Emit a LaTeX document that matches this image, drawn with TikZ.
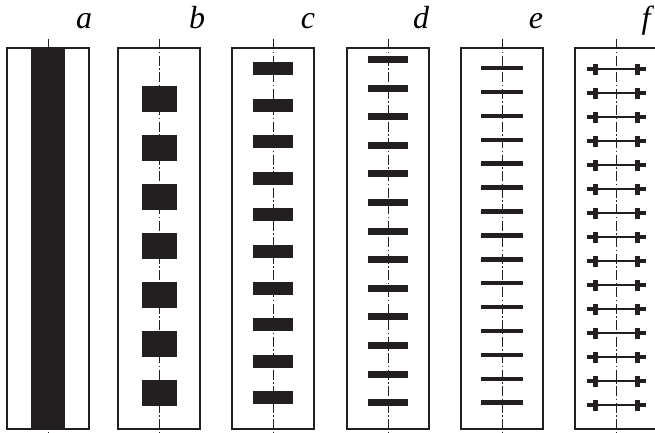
\documentclass[tikz,border=0pt]{standalone}
\usepackage{fontspec}
\setmainfont{Liberation Serif}
\definecolor{ink}{RGB}{35,31,32}
\begin{document}
\begin{tikzpicture}[x=0.75pt,y=-0.75pt,
  frame/.style={draw=ink,line width=1.3pt},
  axisline/.style={draw=ink,line width=0.7pt,dash pattern=on 7.5pt off 1.9pt on 1.1pt off 1.9pt},
  block/.style={fill=ink},
  rod/.style={draw=ink,line width=0.8pt},
  tag/.style={font=\fontsize{24}{26}\selectfont\itshape,anchor=base,inner sep=0pt}]
\useasboundingbox (0,0) rectangle (655,432);

% symmetry axes (dash-dot), one per strip
\foreach \cx in {48,159,273,388,502,616}
  \draw[axisline] (\cx,39) -- (\cx,434);

% a: continuous band
\fill[block] (31,48) rectangle (65,429);

% b: large squares
\foreach \k in {0,...,6}
  \fill[block] (141.5,{86+49*\k}) rectangle (176.5,{112+49*\k});

% c: medium bars
\foreach \k in {0,...,9}
  \fill[block] (253,{62+36.6*\k}) rectangle (293,{75+36.6*\k});

% d: narrow bars
\foreach \k in {0,...,12}
  \fill[block] (368,{56+28.6*\k}) rectangle (408,{63+28.6*\k});

% e: thin bars
\foreach \k in {0,...,14}
  \fill[block] (481,{65.8+23.9*\k}) rectangle (523,{70.3+23.9*\k});

% f: thin rods with thick end caps
\foreach \k in {0,...,14}{
  \pgfmathsetmacro{\yy}{69+24*\k}
  \draw[rod] (587,\yy) -- (645,\yy);
  \fill[block] (593,\yy-5.5) rectangle (598,\yy+5.5);
  \fill[block] (587,\yy-2.3) rectangle (593.5,\yy+2.3);
  \fill[block] (634.5,\yy-5.5) rectangle (639.5,\yy+5.5);
  \fill[block] (639,\yy-2.3) rectangle (645.5,\yy+2.3);
}

% strip outlines
\foreach \lx in {7,118,232,347,461,575}
  \draw[frame] (\lx,48) rectangle ({\lx+82},429);

% strip labels
\node[tag] (la) at (84,28) {a};
\node[tag] (lb) at (197,28) {b};
\node[tag] (lc) at (308,28) {c};
\node[tag] (ld) at (421,28) {d};
\node[tag] (le) at (536,28) {e};
\node[tag] (lf) at (646,28) {f};
\end{tikzpicture}
\end{document}
